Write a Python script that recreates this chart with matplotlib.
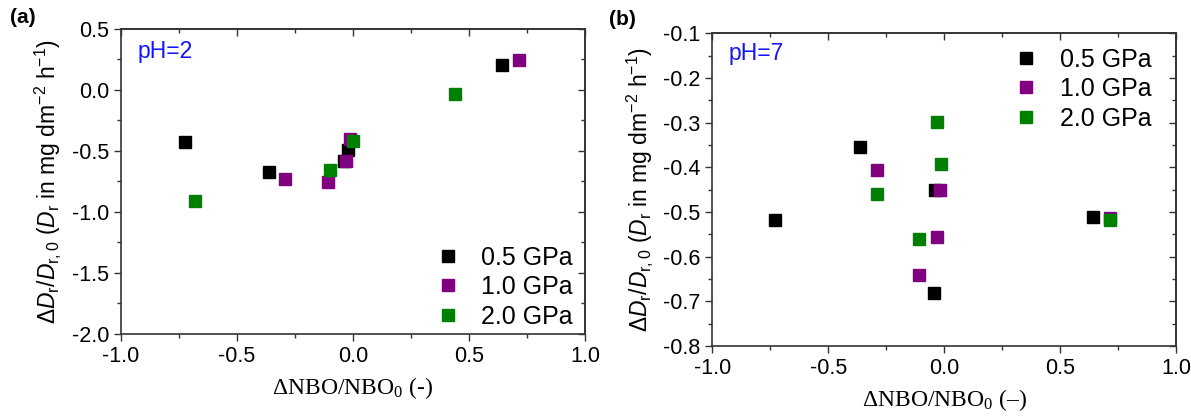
import matplotlib
matplotlib.use('Agg')
import numpy as np
import matplotlib.pyplot as plt
from matplotlib.ticker import MultipleLocator

plt.rcParams['font.family'] = 'Liberation Sans'
plt.rcParams['mathtext.fontset'] = 'custom'
plt.rcParams['mathtext.rm'] = 'Liberation Sans'
plt.rcParams['mathtext.it'] = 'Liberation Sans:italic'
plt.rcParams['mathtext.bf'] = 'Liberation Sans:bold'

labels = ['0.5 GPa', '1.0 GPa', '2.0 GPa']
colors = ['black', '#800080', '#008000']

# pH = 2
x_a = [
    [-0.726, -0.361, -0.04, -0.021, 0.643],
    [-0.295, -0.109, -0.032, -0.012, 0.714],
    [-0.681, -0.099, 0.0, 0.439],
]
y_a = [
    [-0.43, -0.674, -0.58, -0.49, 0.207],
    [-0.728, -0.753, -0.579, -0.403, 0.242],
    [-0.907, -0.658, -0.417, -0.037],
]

# pH = 7
x_b = [
    [-0.729, -0.362, -0.038, -0.042, 0.640],
    [-0.292, -0.017, -0.032, -0.110, 0.714],
    [-0.292, -0.032, -0.016, -0.110, 0.714],
]
y_b = [
    [-0.517, -0.354, -0.450, -0.681, -0.511],
    [-0.406, -0.450, -0.556, -0.640, -0.514],
    [-0.460, -0.298, -0.392, -0.561, -0.519],
]

fig = plt.figure(figsize=(11.91, 4.2), dpi=100)
axa = fig.add_axes([0.1016, 0.205, 0.3896, 0.726])
axb = fig.add_axes([0.5982, 0.176, 0.3892, 0.745])

ylab = r'$\Delta D_\mathrm{r}/D_\mathrm{r,0}$ ($D_\mathrm{r}$ in mg dm$^{-2}$ h$^{-1}$)'


def style(ax, ylim, ymaj, xlab):
    ax.set_xlim(-1.0, 1.0)
    ax.set_ylim(*ylim)
    ax.xaxis.set_major_locator(MultipleLocator(0.5))
    ax.xaxis.set_minor_locator(MultipleLocator(0.25))
    ax.yaxis.set_major_locator(MultipleLocator(ymaj))
    ax.yaxis.set_minor_locator(MultipleLocator(ymaj / 2))
    ax.xaxis.set_major_formatter(lambda v, p: f'{v:.1f}')
    ax.yaxis.set_major_formatter(lambda v, p: f'{v:.1f}')
    for s in ax.spines.values():
        s.set_color('#333333')
        s.set_linewidth(1.2)
    ax.tick_params(which='both', direction='out', labelsize=15.5, color='#333333',
                   width=1.0, top=False, right=False)
    ax.tick_params(which='major', length=5)
    ax.tick_params(which='minor', length=3)
    # inward ticks on the top and right edges
    sx = ax.secondary_xaxis('top')
    sy = ax.secondary_yaxis('right')
    sx.xaxis.set_major_locator(MultipleLocator(0.5))
    sx.xaxis.set_minor_locator(MultipleLocator(0.25))
    sy.yaxis.set_major_locator(MultipleLocator(ymaj))
    sy.yaxis.set_minor_locator(MultipleLocator(ymaj / 2))
    for sa in (sx, sy):
        sa.tick_params(which='both', direction='in', labeltop=False, labelright=False,
                       color='#333333', width=1.0)
        sa.tick_params(which='major', length=5)
        sa.tick_params(which='minor', length=3)
        for s in sa.spines.values():
            s.set_color('#333333')
            s.set_linewidth(1.2)
    ax.set_xlabel(xlab, fontsize=17, family='Liberation Serif', labelpad=6)
    ax.set_ylabel(ylab, fontsize=16.5, labelpad=6)


for ax, xs, ys in ((axa, x_a, y_a), (axb, x_b, y_b)):
    for xx, yy, lab, c in zip(xs, ys, labels, colors):
        ax.plot(xx, yy, 's', color=c, markersize=8, label=lab, linestyle='none')

style(axa, (-2.0, 0.5), 0.5, 'ΔNBO/NBO$_\\mathregular{0}$ (-)')
style(axb, (-0.8, -0.1), 0.1, 'ΔNBO/NBO$_\\mathregular{0}$ (\u2013)')

axa.text(0.035, 0.925, 'pH=2', transform=axa.transAxes, color='#1414ff', fontsize=16.5, va='center')
axb.text(0.035, 0.935, 'pH=7', transform=axb.transAxes, color='#1414ff', fontsize=16.5, va='center')

legkw = dict(frameon=False, fontsize=18, handlelength=1.0, handletextpad=0.85,
             labelspacing=0.22, borderpad=0.2, markerscale=1.0)
axa.legend(loc='lower right', bbox_to_anchor=(1.012, -0.04), **legkw)
axb.legend(loc='upper right', bbox_to_anchor=(0.985, 1.01), **legkw)

fig.text(0.008, 0.945, '(a)', fontsize=15, fontweight='bold')
fig.text(0.511, 0.94, '(b)', fontsize=15, fontweight='bold')

fig.savefig('out.png', dpi=100)
